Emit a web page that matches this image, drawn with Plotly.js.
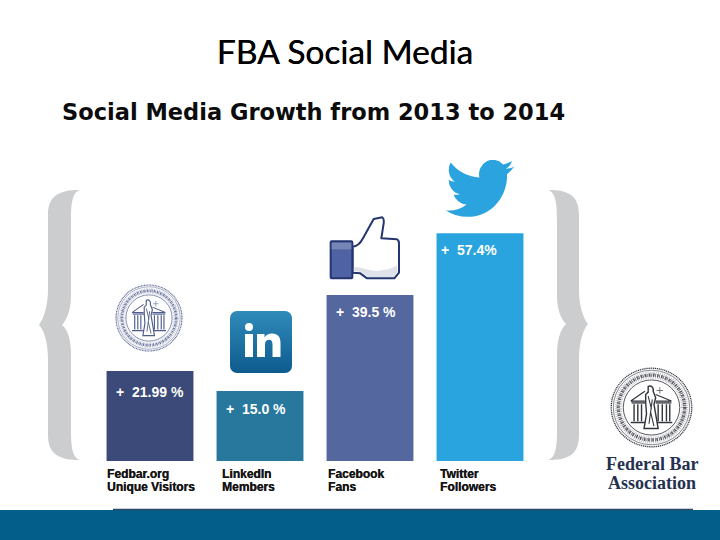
<!DOCTYPE html>
<html>
<head>
<meta charset="utf-8">
<script src="https://cdn.plot.ly/plotly-3.0.1.min.js"></script>
<style>html,body{margin:0;padding:0;background:#fff}#chart{width:720px;height:540px}</style>
</head>
<body>
<div id="chart"></div>
<script>
// ---- chart data ----
const categories = ["Fedbar.org<br>Unique Visitors", "LinkedIn<br>Members", "Facebook<br>Fans", "Twitter<br>Followers"];
const barValues = [22.0, 17.1, 40.6, 55.7];
const valueLabels = ["+  21.99 %", "+  15.0 %", "+  39.5 %", "+  57.4%"];
const barColors = ["#3b4a78", "#28789e", "#55679f", "#29a4de"];
const titleText = "FBA Social Media";
const subtitleText = "Social Media Growth from 2013 to 2014";
const orgLines = ["Federal Bar", "Association"];

const W = 720, H = 540;
const px = v => v / W, py = v => 1 - v / H;

function svgURI(w, h, vb, body) {
  return "data:image/svg+xml;charset=utf-8," + encodeURIComponent(
    `<svg xmlns="http://www.w3.org/2000/svg" width="${w}" height="${h}" viewBox="${vb}" preserveAspectRatio="none">${body}</svg>`);
}
function place(x0, y0, x1, y1, source) {
  return {source, xref: "paper", yref: "paper", x: px(x0), y: py(y0), sizex: (x1 - x0) / W, sizey: (y1 - y0) / H,
    sizing: "stretch", xanchor: "left", yanchor: "top", layer: "above"};
}
function seal(c) {
  let cols = "";
  for (const x of [29, 33.5, 38, 58, 63, 68, 72]) cols += `<line x1="${x}" y1="46" x2="${x}" y2="67" stroke="${c}" stroke-width="1.7"/>`;
  return `<circle cx="50" cy="50" r="48.5" fill="#fbfbfc" stroke="${c}" stroke-width="1.6" stroke-dasharray="1.4 .9"/>
  <circle cx="50" cy="50" r="46" fill="none" stroke="${c}" stroke-width="0.7"/>
  <circle cx="50" cy="50" r="40" fill="none" stroke="${c}" stroke-width="4" stroke-dasharray="1.8 .9 .8 1.5" opacity=".8"/>
  <circle cx="50" cy="50" r="40" fill="none" stroke="${c}" stroke-width="8.5" stroke-dasharray=".6 1.7" opacity=".45"/>
  <circle cx="50" cy="50" r="34" fill="#fff" stroke="${c}" stroke-width="1"/>
  <path d="M25 42 L42 30 M25 42 H42 M55 34 L74 42 H55" fill="none" stroke="${c}" stroke-width="1.5"/>
  <rect x="26" y="43" width="17" height="2.4" fill="${c}" opacity=".75"/><rect x="55" y="43" width="19" height="2.4" fill="${c}" opacity=".75"/>
  ${cols}
  <path d="M25 68.5 H75" stroke="${c}" stroke-width="2"/>
  <path d="M60 25 V33 M56 29 H64" stroke="${c}" stroke-width="1" opacity=".8"/>
  <path d="M46 24 C50 22 53 26 52 30 L55 38 L53 46 L55 58 L58 76 L41 76 L44 58 L43 44 L43 34 L46 31 Z" fill="#fff" stroke="${c}" stroke-width="1.7"/>
  <path d="M46 36 L50 52 M51 40 L47 70 M49 56 L53 73" stroke="${c}" stroke-width="1.3"/>`;
}
const bird = `<path fill="#2aa3df" d="M23.953 4.57a10 10 0 01-2.825.775 4.958 4.958 0 002.163-2.723c-.951.555-2.005.959-3.127 1.184a4.92 4.92 0 00-8.384 4.482C7.69 8.095 4.067 6.13 1.64 3.162a4.822 4.822 0 00-.666 2.475c0 1.71.87 3.213 2.188 4.096a4.904 4.904 0 01-2.228-.616v.06a4.923 4.923 0 003.946 4.827 4.996 4.996 0 01-2.212.085 4.936 4.936 0 004.604 3.417 9.867 9.867 0 01-6.102 2.105c-.39 0-.779-.023-1.17-.067a13.995 13.995 0 007.557 2.209c9.053 0 13.998-7.496 13.998-13.985 0-.21 0-.42-.015-.63A9.935 9.935 0 0024 4.59z"/>`;
const linkedin = `<defs><linearGradient id="g" x1="0" y1="0" x2="0" y2="1"><stop offset="0" stop-color="#2f8bb9"/><stop offset="1" stop-color="#0e5b8f"/></linearGradient></defs>
  <rect x="0" y="0" width="62" height="62" rx="7" fill="url(#g)"/>
  <circle cx="19" cy="16" r="4" fill="#fff"/><rect x="15" y="23" width="8" height="23" fill="#fff"/>
  <path d="M27 23 H34.5 V26.5 C36 24 39 22.5 42 22.5 C48 22.5 50.5 26 50.5 32 V46 H42.5 V33.5 C42.5 30.5 41.5 28.8 39 28.8 C36.5 28.8 35 30.5 35 33.5 V46 H27 Z" fill="#fff"/>`;
const thumb = `<path d="M97 290 C112 290 120 280 128 265 L160 207 L186 202 C190 204 191 212 190 220 L183 265 L230 268 C236 270 236 275 236 285 L236 368 L222 385 L140 385 L120 370 L97 368 Z" fill="#fff" stroke="#24356f" stroke-width="6" stroke-linejoin="round"/>
  <path d="M100 352 C120 348 140 364 170 362 C195 360 215 358 229 345 L232 366 L220 381 L142 381 L122 365 L100 364 Z" fill="#dfe2e8"/>
  <rect x="31" y="274" width="65" height="111" rx="3" fill="#4f62a4" stroke="#24356f" stroke-width="6"/>
  <rect x="34" y="278" width="59" height="20" fill="#7687b7"/>`;

const images = [
  place(446, 160, 514, 217, svgURI(68, 57, "0 2.3 24 19.5", bird)),
  place(230, 311, 292, 373, svgURI(62, 62, "0 0 62 62", linkedin)),
  place(329, 216, 400, 280, svgURI(71, 64, "26 198 213 192", thumb)),
  place(115, 284, 183, 352, svgURI(68, 68, "0 0 100 100", seal("#4f5d8c"))),
  place(610, 367, 693, 448, svgURI(83, 81, "0 0 100 100", seal("#32353d")))
];

const trace = {
  type: "bar", x: categories, y: barValues,
  marker: {color: barColors, line: {width: 0}},
  hoverinfo: "skip"
};

const labelShift = [-36, -36, -36, -41];
const labelDrop = [-21, -18, -17, -17];
const leftNudge = [-45, -40, -44, -42];
const annotations = [];
categories.forEach((c, i) => {
  annotations.push({xref: "x", yref: "y", x: c, y: barValues[i], xanchor: "left", yanchor: "middle",
    xshift: labelShift[i], yshift: labelDrop[i], text: "<b>" + valueLabels[i] + "</b>", showarrow: false,
    font: {family: "Liberation Sans", size: 14, color: "#ffffff"}});
  c.split("<br>").forEach((line, k) => {
    annotations.push({xref: "x", yref: "paper", x: c, y: py(474 + 13 * k), xanchor: "left", yanchor: "middle",
      xshift: leftNudge[i], text: "<b>" + line + "</b>", showarrow: false,
      font: {family: "Liberation Sans", size: 12, color: "#151515", shadow: "0.3px 0 0 #151515"}});
  });
});
annotations.push({xref: "paper", yref: "paper", x: px(60), y: py(112), xanchor: "left", yanchor: "middle",
  text: "<b>" + subtitleText + "</b>", showarrow: false,
  font: {family: "DejaVu Sans", size: 22.5, color: "#0c0c0c"}});
orgLines.forEach((t, k) => {
  annotations.push({xref: "paper", yref: "paper", x: px(652), y: py(464 + 19 * k), xanchor: "center", yanchor: "middle",
    text: "<b>" + t + "</b>", showarrow: false, font: {family: "Liberation Serif", size: 18, color: "#25304f"}});
});

function brace(points) {
  return points.replace(/(-?[\d.]+),(-?[\d.]+)/g, (m, a, b) => px(+a) + "," + py(+b));
}
const leftBrace = brace("M80,190 C60,190 48,195 48,215 L48,290 C48,305 44,318 39,325 C44,330 48,342 48,360 L48,435 C48,455 60,460 80,460 C72,458 71,445 71,430 L71,355 C71,340 68,330 62,325 C68,318 71,308 71,295 L71,220 C71,205 72,192 80,190 Z");
const rightBrace = brace("M548,190 C568,190 579,195 579,215 L579,290 C579,305 583,318 588,324 C583,330 579,342 579,360 L579,435 C579,455 568,460 548,460 C556,458 557,445 557,430 L557,355 C557,340 560,330 566,324 C560,318 557,308 557,295 L557,220 C557,205 556,192 548,190 Z");

const layout = {
  width: W, height: H,
  margin: {l: 0, r: 0, t: 0, b: 0, pad: 0},
  paper_bgcolor: "#ffffff", plot_bgcolor: "rgba(0,0,0,0)",
  showlegend: false, bargap: 0.21,
  title: {text: titleText, x: 345 / W, xanchor: "center", y: py(52), yanchor: "middle",
    font: {family: "Lato", size: 33.5, color: "#000000", shadow: "0.3px 0 0 #000"}},
  xaxis: {type: "category", domain: [95 / W, 535 / W], range: [-0.5, 3.5], showticklabels: false, showgrid: false, zeroline: false, showline: false, ticks: ""},
  yaxis: {domain: [79 / H, 440 / H], range: [0, 361 / 4.09], showticklabels: false, showgrid: false, zeroline: false, showline: false, ticks: ""},
  images, annotations,
  shapes: [
    {type: "path", xref: "paper", yref: "paper", path: leftBrace, fillcolor: "#cccdcf", line: {width: 0}, layer: "below"},
    {type: "path", xref: "paper", yref: "paper", path: rightBrace, fillcolor: "#cccdcf", line: {width: 0}, layer: "below"},
    {type: "rect", xref: "paper", yref: "paper", x0: 0, x1: 1, y0: 0, y1: py(510), fillcolor: "#035f8a", line: {width: 0}, layer: "below"},
    {type: "line", xref: "paper", yref: "paper", x0: px(113), x1: px(693), y0: py(509.5), y1: py(509.5), line: {color: "#2c4a68", width: 1.5}, layer: "below"}
  ]
};
Plotly.newPlot("chart", [trace], layout, {displayModeBar: false, responsive: false});
</script>
</body>
</html>
